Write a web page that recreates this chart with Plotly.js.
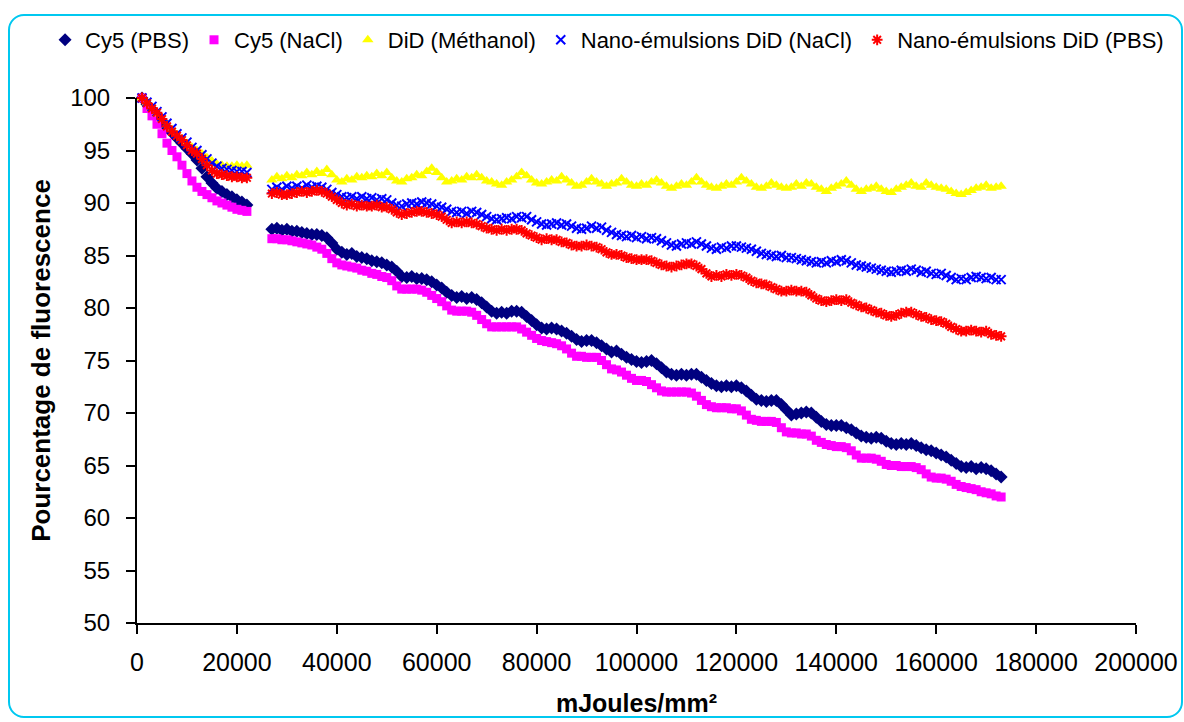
<!DOCTYPE html>
<html>
<head>
<meta charset="utf-8">
<script src="https://cdn.plot.ly/plotly-3.0.1.min.js"></script>
<style>
  html, body { margin: 0; padding: 0; background: #ffffff; }
  #wrap { position: relative; width: 1184px; height: 722px; overflow: hidden; }
  #chart { position: absolute; left: 0; top: 0; width: 1184px; height: 722px; }
  #frame { position: absolute; left: 8px; top: 14px; width: 1175px; height: 704px;
           box-sizing: border-box; border: 2px solid #00C8F0; border-radius: 16px;
           pointer-events: none; }
</style>
</head>
<body>
<div id="wrap"><div id="chart"></div><div id="frame"></div></div>
<script>
// Energy (mJoules/mm²), shared by all series
const energy = [
  1000,2000,3000,4000,5000,6000,7000,8000,9000,10000,11000,12000,13000,14000,15000,16000,17000,18000,19000,20000,21000,22000,
  27000,28000,29000,30000,31000,32000,33000,34000,35000,36000,
  37000,38000,39000,40000,41000,42000,43000,44000,45000,46000,
  47000,48000,49000,50000,51000,52000,53000,54000,55000,56000,
  57000,58000,59000,60000,61000,62000,63000,64000,65000,66000,
  67000,68000,69000,70000,71000,72000,73000,74000,75000,76000,
  77000,78000,79000,80000,81000,82000,83000,84000,85000,86000,
  87000,88000,89000,90000,91000,92000,93000,94000,95000,96000,
  97000,98000,99000,100000,101000,102000,103000,104000,105000,106000,
  107000,108000,109000,110000,111000,112000,113000,114000,115000,116000,
  117000,118000,119000,120000,121000,122000,123000,124000,125000,126000,
  127000,128000,129000,130000,131000,132000,133000,134000,135000,136000,
  137000,138000,139000,140000,141000,142000,143000,144000,145000,146000,
  147000,148000,149000,150000,151000,152000,153000,154000,155000,156000,
  157000,158000,159000,160000,161000,162000,163000,164000,165000,166000,
  167000,168000,169000,170000,171000,172000,173000
];

const cy5PBS = [
  100,99.4,98.9,98.4,97.8,97.2,96.7,96.2,95.7,95.2,94.7,94.1,93.3,92.5,91.9,91.4,91.1,90.8,90.6,90.3,90.1,89.8,
  87.5,87.6,87.4,87.5,87.3,87.3,87.2,87.1,87.0,87.0,
  86.9,86.7,86.2,85.6,85.3,85.1,85.2,84.9,84.8,84.7,
  84.5,84.4,84.3,84.1,83.9,83.5,83.0,82.9,83.0,82.8,
  82.8,82.7,82.5,82.2,81.9,81.5,81.2,81.0,81.1,80.9,
  81.0,80.8,80.5,80.1,79.7,79.5,79.6,79.5,79.7,79.7,
  79.6,79.2,78.8,78.4,78.1,78.0,78.1,78.0,77.8,77.6,
  77.3,77.0,76.8,76.9,76.9,76.7,76.4,76.1,75.8,75.9,
  75.6,75.3,75.1,74.9,74.8,74.9,75.0,74.7,74.3,73.9,
  73.7,73.6,73.7,73.6,73.7,73.7,73.4,73.1,72.8,72.6,
  72.5,72.6,72.5,72.6,72.4,72.1,71.7,71.3,71.2,71.1,
  71.2,71.2,70.8,70.3,69.8,69.9,70.0,70.1,70.0,69.6,
  69.2,68.9,68.8,68.8,68.8,68.6,68.4,68.1,67.8,67.7,
  67.6,67.7,67.6,67.3,67.1,67.0,67.1,67.0,67.1,66.9,
  66.7,66.5,66.4,66.2,66.0,65.8,65.5,65.2,64.9,64.8,
  64.9,64.7,64.8,64.7,64.5,64.2,63.9
];

const cy5NaCl = [
  100,99.0,98.3,97.5,96.6,95.7,95.0,94.4,93.6,92.8,92.1,91.5,91.1,90.8,90.5,90.2,90.0,89.8,89.6,89.4,89.3,89.2,
  86.6,86.6,86.5,86.5,86.4,86.3,86.2,86.1,86.0,85.8,
  85.6,85.2,84.7,84.3,84.1,84.0,83.9,83.8,83.6,83.5,
  83.3,83.2,83.0,82.9,82.6,82.1,81.8,81.8,81.8,81.8,
  81.7,81.5,81.2,80.9,80.6,80.2,79.8,79.7,79.7,79.7,
  79.6,79.3,78.9,78.5,78.2,78.2,78.2,78.2,78.2,78.2,
  78.0,77.7,77.4,77.1,76.9,76.8,76.7,76.6,76.4,76.1,
  75.7,75.4,75.4,75.3,75.3,75.3,75.0,74.6,74.2,74.1,
  73.9,73.6,73.3,73.1,73.1,73.0,72.7,72.4,72.1,72.0,
  72.0,72.0,72.0,72.0,71.9,71.6,71.2,70.8,70.6,70.5,
  70.5,70.5,70.4,70.4,70.2,69.8,69.4,69.3,69.2,69.2,
  69.2,69.1,68.6,68.2,68.1,68.1,68.0,68.0,67.8,67.4,
  67.2,67.0,66.9,66.8,66.8,66.7,66.4,66.0,65.7,65.7,
  65.7,65.6,65.4,65.1,65.0,65.0,64.9,64.9,64.9,64.8,
  64.6,64.2,63.9,63.8,63.8,63.7,63.5,63.2,63.0,62.9,
  62.8,62.7,62.5,62.4,62.3,62.1,62.0
];

const didMethanol = [
  100,99.5,99.0,98.5,98.0,97.4,97.0,96.5,96.1,95.7,95.3,95.0,94.7,94.3,94.0,93.7,93.6,93.5,93.5,93.6,93.5,93.6,
  92.2,92.5,92.3,92.6,92.4,92.7,92.6,92.9,92.7,93.0,
  92.8,93.2,92.7,92.2,92.0,92.3,92.2,92.5,92.4,92.6,
  92.5,92.8,92.6,92.9,92.4,92.1,92.0,92.3,92.4,92.7,
  92.6,93.0,93.3,92.9,92.4,92.0,92.1,92.3,92.2,92.5,
  92.4,92.7,92.4,92.1,92.0,91.8,91.7,92.0,92.2,92.5,
  92.9,92.6,92.2,91.9,91.8,92.0,92.2,92.1,92.5,92.2,
  91.9,91.6,91.7,92.0,92.3,92.0,91.8,91.6,91.8,91.9,
  92.3,92.0,91.7,91.6,91.8,91.7,92.0,92.2,91.9,91.6,
  91.4,91.6,91.8,91.7,92.0,92.4,92.0,91.7,91.5,91.4,
  91.6,91.8,91.7,92.0,92.4,92.1,91.8,91.5,91.4,91.6,
  91.9,91.7,91.5,91.4,91.5,91.8,91.6,91.9,91.8,91.5,
  91.3,91.1,91.4,91.6,91.8,92.1,91.7,91.3,91.1,91.3,
  91.4,91.6,91.3,91.1,91.0,91.3,91.5,91.7,91.9,91.6,
  91.5,91.9,91.7,91.5,91.4,91.3,91.1,90.9,90.8,91.0,
  91.2,91.4,91.5,91.7,91.4,91.5,91.6
];

const nanoNaCl = [
  100,99.6,99.2,98.7,98.2,97.6,97.1,96.6,96.2,95.8,95.3,95.0,94.6,94.2,93.8,93.5,93.3,93.2,93.1,93.0,93.0,92.9,
  91.3,91.5,91.3,91.6,91.4,91.6,91.4,91.7,91.5,91.6,
  91.5,91.3,91.0,90.8,90.6,90.5,90.6,90.4,90.6,90.4,
  90.5,90.3,90.4,90.3,90.0,89.8,89.7,89.9,90.0,89.9,
  90.1,90.0,89.9,89.7,89.6,89.4,89.2,89.1,89.2,89.0,
  89.2,89.1,88.9,88.7,88.5,88.4,88.5,88.6,88.5,88.7,
  88.6,88.7,88.4,88.2,88.0,87.9,88.0,88.1,87.9,88.0,
  87.8,87.6,87.5,87.6,87.8,87.6,87.7,87.4,87.2,87.0,
  86.9,86.8,86.9,86.7,86.8,86.6,86.7,86.6,86.4,86.2,
  86.0,85.9,86.1,86.2,86.1,86.3,86.1,85.9,85.7,85.6,
  85.8,85.7,85.9,85.9,85.8,85.7,85.6,85.4,85.2,85.1,
  85.0,84.9,85.0,84.8,84.8,84.7,84.6,84.5,84.4,84.3,
  84.4,84.3,84.5,84.4,84.6,84.5,84.3,84.1,84.0,83.9,
  83.8,83.7,83.6,83.5,83.4,83.5,83.6,83.5,83.7,83.6,
  83.4,83.5,83.3,83.2,83.3,83.1,82.9,82.7,82.8,82.7,
  82.9,83.0,82.9,82.8,82.9,82.7,82.7
];

const nanoPBS = [
  100,99.5,99.0,98.6,98.0,97.3,96.8,96.4,96.0,95.5,95.0,94.7,94.2,93.6,93.1,92.8,92.7,92.6,92.5,92.5,92.4,92.4,
  90.9,91.0,90.8,90.8,90.9,91.0,91.1,91.0,91.1,91.2,
  91.1,90.9,90.6,90.3,90.0,89.8,89.9,89.7,89.8,89.7,
  89.7,89.8,89.6,89.6,89.4,89.1,88.9,89.0,89.1,89.2,
  89.2,89.1,89.0,88.9,88.7,88.4,88.1,88.2,88.1,88.2,
  88.1,88.0,87.8,87.6,87.5,87.4,87.5,87.4,87.5,87.5,
  87.4,87.1,86.9,86.7,86.5,86.6,86.5,86.5,86.3,86.2,
  86.0,85.9,85.9,86.0,85.9,85.8,85.6,85.3,85.1,85.1,
  85.0,84.8,84.7,84.6,84.6,84.6,84.5,84.3,84.1,84.0,
  83.9,84.0,84.1,84.2,84.2,84.0,83.7,83.3,83.0,83.1,
  83.0,83.2,83.1,83.2,83.1,82.9,82.6,82.4,82.3,82.2,
  82.0,81.8,81.6,81.6,81.7,81.6,81.6,81.5,81.2,80.9,
  80.7,80.6,80.7,80.8,80.7,80.8,80.5,80.3,80.1,80.0,
  79.8,79.6,79.5,79.3,79.2,79.3,79.5,79.6,79.6,79.4,
  79.2,79.1,78.9,78.8,78.7,78.5,78.2,78.0,77.8,77.8,
  77.9,77.8,77.7,77.8,77.5,77.4,77.3
];

const seriesNames = ['Cy5 (PBS)', 'Cy5 (NaCl)', 'DiD (Méthanol)', 'Nano-émulsions DiD (NaCl)', 'Nano-émulsions DiD (PBS)'];
const seriesValues = [cy5PBS, cy5NaCl, didMethanol, nanoNaCl, nanoPBS];
const seriesColors = ['#000080', '#FF00FF', '#FFFF00', '#0000FF', '#FF0000'];
const seriesSymbols = ['diamond', 'square', 'triangle-up', 'x-thin-open', 'asterisk-open'];
const seriesSizes = [10, 9, 10, 9, 9];

const FONT = 'Liberation Sans, Arial, sans-serif';

const traces = seriesNames.map((name, i) => {
  const open = seriesSymbols[i].endsWith('-open');
  return {
    type: 'scatter',
    mode: 'markers',
    name: name,
    x: energy,
    y: seriesValues[i],
    cliponaxis: false,
    marker: {
      symbol: seriesSymbols[i],
      size: seriesSizes[i],
      color: seriesColors[i],
      line: open ? { color: seriesColors[i], width: 2 } : { width: 0 }
    }
  };
});

const layout = {
  width: 1184,
  height: 722,
  margin: { l: 137, r: 48, t: 98, b: 99 },
  paper_bgcolor: '#ffffff',
  plot_bgcolor: '#ffffff',
  font: { family: FONT, color: '#000000', size: 24 },
  showlegend: true,
  legend: {
    orientation: 'h',
    xref: 'paper', yref: 'paper',
    x: -0.092, y: 1.1105, xanchor: 'left', yanchor: 'middle',
    font: { family: FONT, size: 22, color: '#000000' },
    bgcolor: 'rgba(0,0,0,0)',
    itemwidth: 30,
    traceorder: 'normal'
  },
  xaxis: {
    range: [0, 200000],
    tick0: 0, dtick: 20000,
    tickformat: 'd',
    showgrid: false, zeroline: false,
    showline: true, linecolor: '#000000', linewidth: 2,
    ticks: 'outside', ticklen: 9, tickwidth: 2, tickcolor: '#000000',
    tickfont: { family: FONT, size: 25, color: '#000000' },
    ticklabelstandoff: 7,
    title: { text: 'mJoules/mm²', font: { family: FONT, size: 25, color: '#000000', weight: 'bold' }, standoff: 19 },
    automargin: false
  },
  yaxis: {
    range: [50, 100],
    tick0: 50, dtick: 5,
    showgrid: false, zeroline: false,
    showline: true, linecolor: '#000000', linewidth: 2,
    ticks: 'outside', ticklen: 9, tickwidth: 2, tickcolor: '#000000',
    tickfont: { family: FONT, size: 24, color: '#000000' },
    ticklabelstandoff: 11,
    title: { text: 'Pourcentage de fluorescence', font: { family: FONT, size: 26, color: '#000000', weight: 'bold' }, standoff: 12 },
    automargin: false
  }
};

Plotly.newPlot('chart', traces, layout, { displayModeBar: false, staticPlot: true });
</script>
</body>
</html>
